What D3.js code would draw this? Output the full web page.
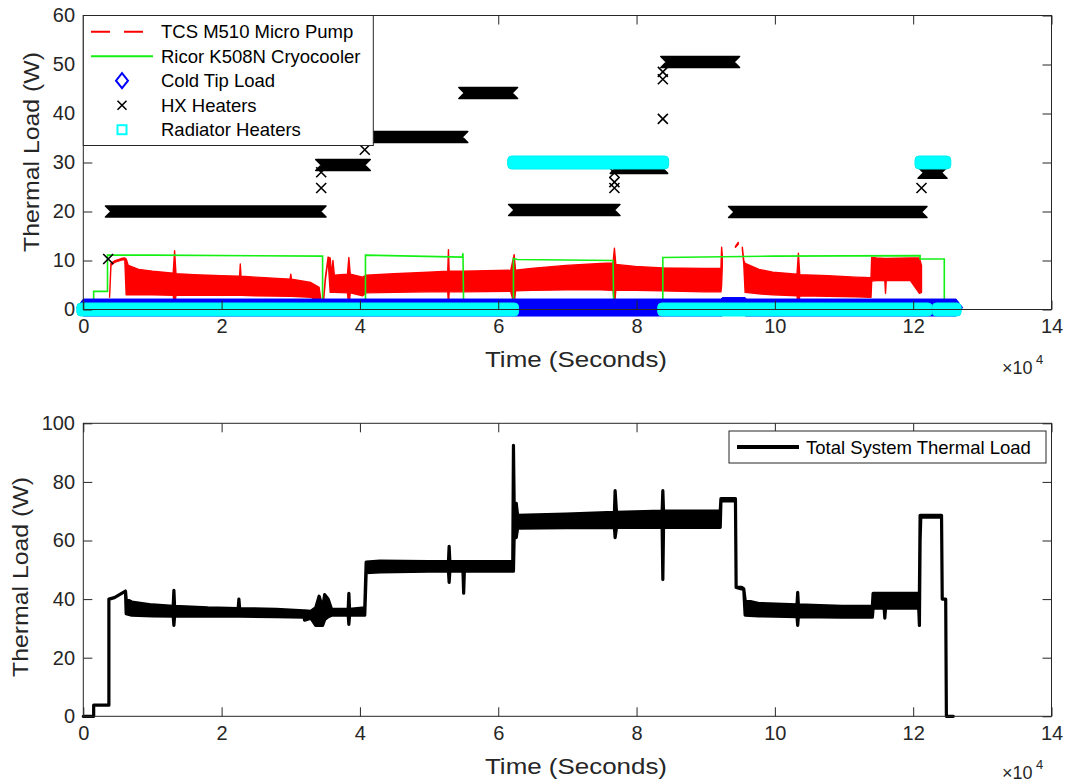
<!DOCTYPE html>
<html>
<head>
<meta charset="utf-8">
<script src="https://cdn.jsdelivr.net/npm/d3@7/dist/d3.min.js"></script>
<style>
  html, body { margin: 0; padding: 0; background: #fff; }
  svg { display: block; font-family: "Liberation Sans", Arial, Helvetica, sans-serif; }
</style>
</head>
<body>
<svg id="chart" width="1065" height="784"></svg>
<script>
// ---------- DATA (time in units of 10^4 s, loads in W) ----------
const xTicks = [0, 2, 4, 6, 8, 10, 12, 14];
const yTicksTop = [0, 10, 20, 30, 40, 50, 60];
const yTicksBottom = [0, 20, 40, 60, 80, 100];

const legendTop = ["TCS M510 Micro Pump", "Ricor K508N Cryocooler", "Cold Tip Load", "HX Heaters", "Radiator Heaters"];
const legendBottom = ["Total System Thermal Load"];

// TCS M510 Micro Pump: envelope of the dense noisy trace (null = gap)
const pumpTime = [0.38, 0.40, 0.45, 0.55, 0.60, 0.62, 0.65, 0.80, 1.00, 1.30, 1.32, 1.34, 1.60, 1.99, 2.26, 2.27, 2.28, 2.49, 2.99, 3.00, 3.01, 3.29, 3.41, 3.44,
  null,
  3.47, 3.50, 3.54, 3.57, 3.59, 3.61, 3.63, 3.82, 3.84, 3.86, 4.04, 4.09, 4.49, 4.99, 5.27, 5.28, 5.29, 5.48, 6.18, 6.23, 6.25, 6.48, 6.98, 7.48, 7.66, 7.68, 7.70, 7.98, 8.37, 8.97, 9.22, 9.23, 9.24,
  null,
  9.43, 9.47,
  null,
  9.53, 9.55, 9.57, 9.77, 9.97, 10.32, 10.34, 10.36, 10.77, 11.17, 11.39, 11.40, 11.47, 11.59, 11.60, 11.61, 11.96, 12.09, 12.12];
const pumpLow = [2.5, 9.0, 9.6, 10.1, 10.2, 3.0, 3.0, 3.0, 3.0, 2.9, 0.5, 2.9, 2.9, 2.9, 2.9, 2.9, 2.9, 2.8, 2.7, 2.7, 2.7, 2.5, 1.5, 0.3,
  null,
  1.0, 6.0, 10.2, 3.5, 3.5, 3.5, 3.5, 3.4, 0.5, 3.4, 2.8, 3.4, 3.5, 3.6, 3.6, 1.0, 3.6, 3.6, 3.7, 1.0, 3.8, 3.9, 4.0, 4.0, 3.9, 0.8, 3.9, 3.9, 3.8, 3.6, 3.6, 5.0, 9.0,
  null,
  12.7, 13.3,
  null,
  12.2, 9.4, 3.5, 3.2, 3.0, 2.8, 0.5, 2.8, 2.7, 2.6, 2.5, 5.8, 5.9, 5.9, 3.3, 5.9, 5.9, 3.3, 3.5];
const pumpHigh = [2.5, 9.4, 9.9, 10.4, 10.5, 10.3, 9.0, 8.2, 7.8, 7.4, 12.0, 7.3, 7.1, 6.9, 6.8, 9.3, 6.8, 6.6, 6.2, 7.2, 6.2, 5.5, 4.5, 1.5,
  null,
  1.5, 6.5, 10.7, 10.5, 7.0, 10.0, 7.0, 7.2, 10.6, 7.2, 6.6, 7.0, 7.3, 7.6, 7.8, 12.2, 7.8, 7.8, 8.0, 11.2, 8.0, 8.4, 9.0, 9.4, 9.5, 12.5, 9.2, 8.8, 8.5, 8.4, 8.4, 12.7, 11.0,
  null,
  12.9, 13.7,
  null,
  12.7, 10.0, 9.4, 8.2, 7.6, 7.2, 11.5, 7.1, 6.9, 6.6, 6.5, 10.6, 10.5, 10.4, 10.4, 10.4, 10.5, 10.5, 9.0];

// Ricor K508N Cryocooler
const cryoTime = [0, 0.15, 0.15, 0.35, 0.35, 1.00, 3.46, 3.46, 4.08, 4.08, 5.48, 5.49, 5.50, 6.22, 6.22, 6.28, 7.66, 7.67, 8.38, 8.38, 9.97, 12.10, 12.10, 12.45, 12.45, 12.60];
const cryoLoad = [0, 0, 3.7, 3.7, 11.1, 11.1, 10.9, 0, 0, 11.1, 10.7, 11.5, 0, 0, 10.4, 10.2, 10.0, 0, 0, 10.6, 10.9, 11.0, 10.3, 10.3, 0, 0];

// Cold Tip Load (dense markers: runs of constant value)
const coldStart = [0, 9.24, 9.57];
const coldEnd = [9.24, 9.57, 12.62];
const coldLoad = [0.4, 0.7, 0.4];

// HX Heaters (dense markers: runs) + isolated samples
const hxStart = [0.40, 3.44, 4.21, 5.51, 6.23, 7.70, 8.43, 9.41, 12.15];
const hxEnd = [3.43, 4.07, 5.48, 6.20, 7.68, 8.37, 9.41, 12.12, 12.41];
const hxLoad = [20, 29.5, 35.2, 44.2, 20.3, 28.9, 50.5, 19.9, 27.9];
const hxPointTime = [0.36, 3.44, 3.44, 4.07, 7.68, 7.68, 7.68, 8.38, 8.38, 8.38, 12.12];
const hxPointLoad = [10.3, 24.8, 28.0, 32.6, 27.9, 26.0, 24.8, 38.9, 47.0, 48.5, 24.8];

// Radiator Heaters (dense markers: runs)
const radStart = [0, 8.40, 12.37, 6.23, 12.12];
const radEnd = [6.20, 12.18, 12.60, 8.37, 12.45];
const radLoad = [0, 0, 0, 30, 30];

// Total System Thermal Load: envelope of the dense trace
const totTime = [0, 0.15, 0.15, 0.37, 0.37, 0.45, 0.61, 0.62, 0.70, 1.00, 1.30, 1.31, 1.32, 1.80, 2.24, 2.25, 2.26, 2.79, 3.19, 3.20, 3.29, 3.36, 3.41, 3.46, 3.49, 3.54, 3.59, 3.83, 3.84, 3.85, 4.07, 4.09, 4.29, 4.99, 5.28, 5.29, 5.30, 5.49, 5.50, 5.51, 6.21, 6.22, 6.23, 6.26, 6.28, 6.98, 7.68, 7.69, 7.71, 8.37, 8.38, 8.39, 9.21, 9.22, 9.43, 9.44, 9.52, 9.55, 9.57, 9.77, 10.32, 10.33, 10.34, 10.97, 11.41, 11.42, 11.58, 11.59, 11.60, 12.08, 12.09, 12.10, 12.11, 12.41, 12.42, 12.47, 12.48, 12.58];
const totLow = [0, 0, 3.8, 3.8, 40, 40.5, 42.7, 35, 34.5, 34.3, 34.2, 31, 34.2, 34.2, 34.2, 34.2, 34.2, 34, 33.8, 32.8, 33.5, 31, 31, 31, 33, 34, 34.5, 34.5, 31.4, 34.5, 34.5, 49, 49.3, 49.5, 49.5, 45.7, 49.5, 49.5, 42, 49.5, 49.5, 49.5, 61, 61, 64.2, 64.4, 64.5, 61, 64.5, 64.5, 46.7, 64.5, 64.5, 73.5, 73.5, 44, 43.5, 43.5, 34.5, 34.3, 34, 31, 34, 33.8, 33.8, 36.9, 36.9, 33.5, 36.9, 36.9, 31, 60, 68, 68, 40, 40, 0, 0];
const totHigh = [0, 0, 3.8, 3.8, 40, 40.5, 42.7, 40, 39, 38, 37.5, 43, 37.5, 37, 36.8, 40, 36.8, 36.5, 36, 36, 35.8, 37, 41, 37, 41.5, 40, 36.5, 36.5, 42, 36.5, 37, 52.6, 53, 52.8, 52.8, 58, 52.8, 52.8, 52.8, 52.8, 52.8, 92.5, 72.7, 72.7, 68.6, 69, 69.6, 77, 69.6, 70, 77, 70, 70, 74.3, 74.3, 44, 44, 43.5, 39.6, 38.5, 38, 42.3, 38, 37.5, 37.5, 42, 42, 42, 42, 42, 42, 68.6, 68.6, 68.6, 40, 40, 0, 0];

// ---------- LAYOUT ----------
const svg = d3.select("#chart");
const FONT = "\"Liberation Sans\", Arial, Helvetica, sans-serif";
const AX = "#262626";
const left = 83.3, right = 1051.5;

const x = d3.scaleLinear().domain([0, 14]).range([left, right]);
const yTop = d3.scaleLinear().domain([0, 60]).range([309.5, 15.5]);
const yBot = d3.scaleLinear().domain([0, 100]).range([716.3, 423.3]);

function drawAxes(y, yTicks) {
  const [y0, y1] = y.range();
  const g = svg.append("g");
  g.append("g").attr("transform", `translate(0,${y0})`)
    .call(d3.axisBottom(x).tickValues(xTicks).tickSize(-9).tickPadding(9.5).tickFormat(d3.format("d")))
    .call(s => s.select(".domain").remove());
  g.append("g").attr("transform", `translate(0,${y1})`)
    .call(d3.axisTop(x).tickValues(xTicks).tickSize(-9).tickFormat(""))
    .call(s => s.select(".domain").remove());
  g.append("g").attr("transform", `translate(${left},0)`)
    .call(d3.axisLeft(y).tickValues(yTicks).tickSize(-9).tickPadding(8.3).tickFormat(d3.format("d")))
    .call(s => s.select(".domain").remove());
  g.append("g").attr("transform", `translate(${right},0)`)
    .call(d3.axisRight(y).tickValues(yTicks).tickSize(-9).tickFormat(""))
    .call(s => s.select(".domain").remove());
  g.selectAll(".tick line").attr("stroke", AX).attr("stroke-width", 1);
  g.selectAll(".tick text").attr("fill", AX).attr("font-size", 20).attr("font-family", FONT);
  g.append("rect").attr("x", left).attr("y", y1).attr("width", right - left).attr("height", y0 - y1)
    .attr("fill", "none").attr("stroke", AX).attr("stroke-width", 1);
  return g;
}

function axisLabels(yCenterLabel, yLabelX, xLabelY, expY) {
  svg.append("text").attr("transform", `translate(${yLabelX},${yCenterLabel}) rotate(-90)`)
    .attr("text-anchor", "middle").attr("font-size", 22).attr("fill", AX)
    .attr("textLength", 200).attr("lengthAdjust", "spacingAndGlyphs")
    .text("Thermal Load (W)");
  svg.append("text").attr("x", 576).attr("y", xLabelY)
    .attr("text-anchor", "middle").attr("font-size", 22).attr("fill", AX)
    .attr("textLength", 182).attr("lengthAdjust", "spacingAndGlyphs")
    .text("Time (Seconds)");
  svg.append("text").attr("x", 1002).attr("y", expY).attr("font-size", 18).attr("fill", AX).text("\u00d710");
  svg.append("text").attr("x", 1036).attr("y", expY - 10).attr("font-size", 13).attr("fill", AX).text("4");
}

// ---------- TOP PLOT ----------
const plotTop = svg.append("g");

const pumpData = pumpTime.map((t, i) => ({ t, lo: pumpLow[i], hi: pumpHigh[i] }));
const pumpArea = d3.area().defined(d => d.t !== null)
  .x(d => x(d.t)).y0(d => yTop(d.lo)).y1(d => yTop(d.hi));
plotTop.append("path").datum(pumpData).attr("d", pumpArea)
  .attr("fill", "#ff0000").attr("stroke", "#ff0000").attr("stroke-width", 1.4).attr("stroke-linejoin", "round");

const cryoData = cryoTime.map((t, i) => ({ t, v: cryoLoad[i] }));
plotTop.append("path").datum(cryoData)
  .attr("d", d3.line().x(d => x(d.t)).y(d => yTop(d.v)))
  .attr("fill", "none").attr("stroke", "#14f014").attr("stroke-width", 1.6);

const dh = 8.5, dw = 6.5;
plotTop.selectAll(".cold").data(coldStart.map((s, i) => ({ s, e: coldEnd[i], v: coldLoad[i] })))
  .join("path").attr("class", "cold")
  .attr("d", d => {
    const x0 = x(d.s), x1 = x(d.e), yy = yTop(d.v);
    return `M${x0 - dw},${yy} L${x0},${yy - dh} L${x1},${yy - dh} L${x1 + dw},${yy} L${x1},${yy + dh} L${x0},${yy + dh} Z`;
  })
  .attr("fill", "#0000ff").attr("stroke", "#0000ff").attr("stroke-width", 1);

const hh = 5.5;
plotTop.selectAll(".hx").data(hxStart.map((s, i) => ({ s, e: hxEnd[i], v: hxLoad[i] })))
  .join("path").attr("class", "hx")
  .attr("d", d => {
    const x0 = x(d.s), x1 = x(d.e), yy = yTop(d.v);
    return `M${x0 - hh},${yy - hh} L${x1 + hh},${yy - hh} L${x1},${yy} L${x1 + hh},${yy + hh} L${x0 - hh},${yy + hh} L${x0},${yy} Z`;
  })
  .attr("fill", "#000").attr("stroke", "#000").attr("stroke-width", 1.5).attr("stroke-linejoin", "round");
const hm = 5;
plotTop.selectAll(".hxp").data(hxPointTime.map((t, i) => ({ t, v: hxPointLoad[i] })))
  .join("path").attr("class", "hxp")
  .attr("d", d => {
    const cx = x(d.t), cy = yTop(d.v);
    return `M${cx - hm},${cy - hm} L${cx + hm},${cy + hm} M${cx - hm},${cy + hm} L${cx + hm},${cy - hm}`;
  })
  .attr("stroke", "#000").attr("stroke-width", 1.6).attr("fill", "none");

const rs = 6.5;
plotTop.selectAll(".rad").data(radStart.map((s, i) => ({ s, e: radEnd[i], v: radLoad[i] })))
  .join("rect").attr("class", "rad")
  .attr("x", d => x(d.s) - rs).attr("y", d => yTop(d.v) - rs)
  .attr("width", d => x(d.e) - x(d.s) + 2 * rs).attr("height", 2 * rs)
  .attr("rx", 4).attr("fill", "#00ffff").attr("stroke", "#00f0f0").attr("stroke-width", 1);

drawAxes(yTop, yTicksTop);
axisLabels(152, 39, 367, 374);

const lg = svg.append("g");
lg.append("rect").attr("x", left).attr("y", 15.5).attr("width", 290).attr("height", 130)
  .attr("fill", "#fff").attr("stroke", AX).attr("stroke-width", 1);
const rowY = legendTop.map((_, i) => 31.7 + i * 24.5);
lg.selectAll(".lt").data(legendTop).join("text").attr("class", "lt")
  .attr("x", 161).attr("y", (d, i) => rowY[i] + 6.6).attr("font-size", 18.5).attr("fill", "#000").text(d => d);
lg.append("line").attr("x1", 91).attr("x2", 153).attr("y1", rowY[0]).attr("y2", rowY[0])
  .attr("stroke", "#ff0000").attr("stroke-width", 2).attr("stroke-dasharray", "19,14");
lg.append("line").attr("x1", 91).attr("x2", 153).attr("y1", rowY[1]).attr("y2", rowY[1])
  .attr("stroke", "#14f014").attr("stroke-width", 2);
lg.append("path").attr("d", `M122,${rowY[2] - 7.5} L128,${rowY[2]} L122,${rowY[2] + 7.5} L116,${rowY[2]} Z`)
  .attr("fill", "none").attr("stroke", "#0000ff").attr("stroke-width", 2);
lg.append("path").attr("d", `M117.5,${rowY[3] - 4.5} L126.5,${rowY[3] + 4.5} M117.5,${rowY[3] + 4.5} L126.5,${rowY[3] - 4.5}`)
  .attr("stroke", "#000").attr("stroke-width", 1.6);
lg.append("rect").attr("x", 117.5).attr("y", rowY[4] - 4.5).attr("width", 9).attr("height", 9)
  .attr("fill", "none").attr("stroke", "#00ffff").attr("stroke-width", 2);

// ---------- BOTTOM PLOT ----------
const plotBot = svg.append("g");
const totData = totTime.map((t, i) => ({ t, lo: totLow[i], hi: totHigh[i] }));
plotBot.append("path").datum(totData)
  .attr("d", d3.area().x(d => x(d.t)).y0(d => yBot(d.lo)).y1(d => yBot(d.hi)))
  .attr("fill", "#000").attr("stroke", "#000").attr("stroke-width", 3.2).attr("stroke-linejoin", "round");

drawAxes(yBot, yTicksBottom);
axisLabels(577, 28, 774, 779);

const lb = svg.append("g");
lb.append("rect").attr("x", 729).attr("y", 431).attr("width", 317).attr("height", 32)
  .attr("fill", "#fff").attr("stroke", AX).attr("stroke-width", 1);
lb.append("line").attr("x1", 737).attr("x2", 799).attr("y1", 447).attr("y2", 447)
  .attr("stroke", "#000").attr("stroke-width", 4);
lb.selectAll(".lbt").data(legendBottom).join("text").attr("class", "lbt")
  .attr("x", 806).attr("y", 453.6).attr("font-size", 18.5).attr("fill", "#000").text(d => d);
</script>
</body>
</html>
